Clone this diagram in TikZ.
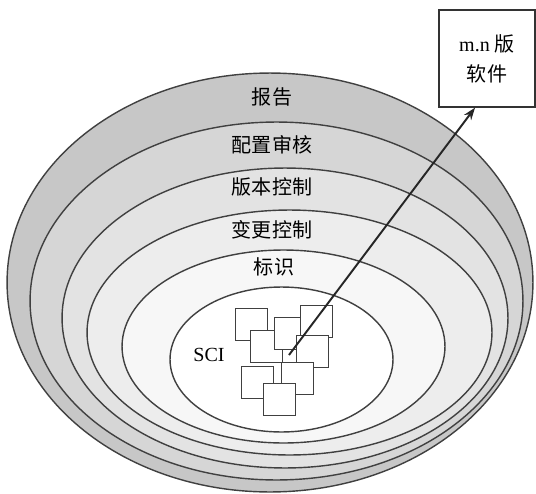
\documentclass[tikz,border=0pt]{standalone}
\usepackage{fontspec}
\setmainfont{Liberation Serif}
\newfontfamily\cjk{Noto Sans CJK SC}
\usetikzlibrary{arrows.meta}

\begin{document}
\begin{tikzpicture}[x=0.02cm, y=-0.02cm,
		ring/.style={draw=black!75, line width=0.8pt},
		lbl/.style={font=\cjk\fontsize{11.4}{14}\selectfont},
		sqbox/.style={draw=black!75, fill=white, line width=0.8pt, minimum size=0.64cm, inner sep=0pt, anchor=north west},
		arr/.style={-{Stealth[length=7pt,width=5pt]}, line width=1.1pt, draw=black!85}]
	\useasboundingbox (0,0) rectangle (536,493);
	% nested rings, outermost first
	\foreach \cx/\cy/\rx/\ry/\g in {270/282.5/5.26cm/4.19cm/22, 276.5/301/4.93cm/3.58cm/16,
			285/318/4.46cm/3.00cm/11, 289.5/332.5/4.05cm/2.45cm/7,
			283.5/346.5/3.23cm/1.93cm/3, 281.5/359.5/2.23cm/1.45cm/0}
		\filldraw[ring, fill=black!\g] (\cx,\cy) ellipse [x radius=\rx, y radius=\ry];
	\node[lbl] (report) at (272,97) {报告};
	\node[lbl] (audit) at (272,145) {配置审核};
	\node[lbl] (version) at (272,187) {版本控制};
	\node[lbl] (change) at (272,230) {变更控制};
	\node[lbl] (ident) at (274,267) {标识};
	\node[font=\fontsize{11.4}{14}\selectfont] (sci) at (209,355) {SCI};
	% configuration items
	\foreach \x/\y [count=\i] in {235/308, 250/330, 274/317, 300/305, 296/335, 281/362, 241/366, 263/383}
		\node[sqbox] (sq\i) at (\x,\y) {};
	\node[draw=black!80, fill=white, line width=0.8pt, minimum width=1.92cm, minimum height=1.94cm,
		align=center, font=\fontsize{11.4}{17}\selectfont] (sw) at (487,58.5) {m.n {\cjk 版}\\{\cjk 软件}};
	\coordinate (src) at (289,355);
	\draw[arr] (src) -- ([xshift=-0.24cm]sw.south);
\end{tikzpicture}
\end{document}
